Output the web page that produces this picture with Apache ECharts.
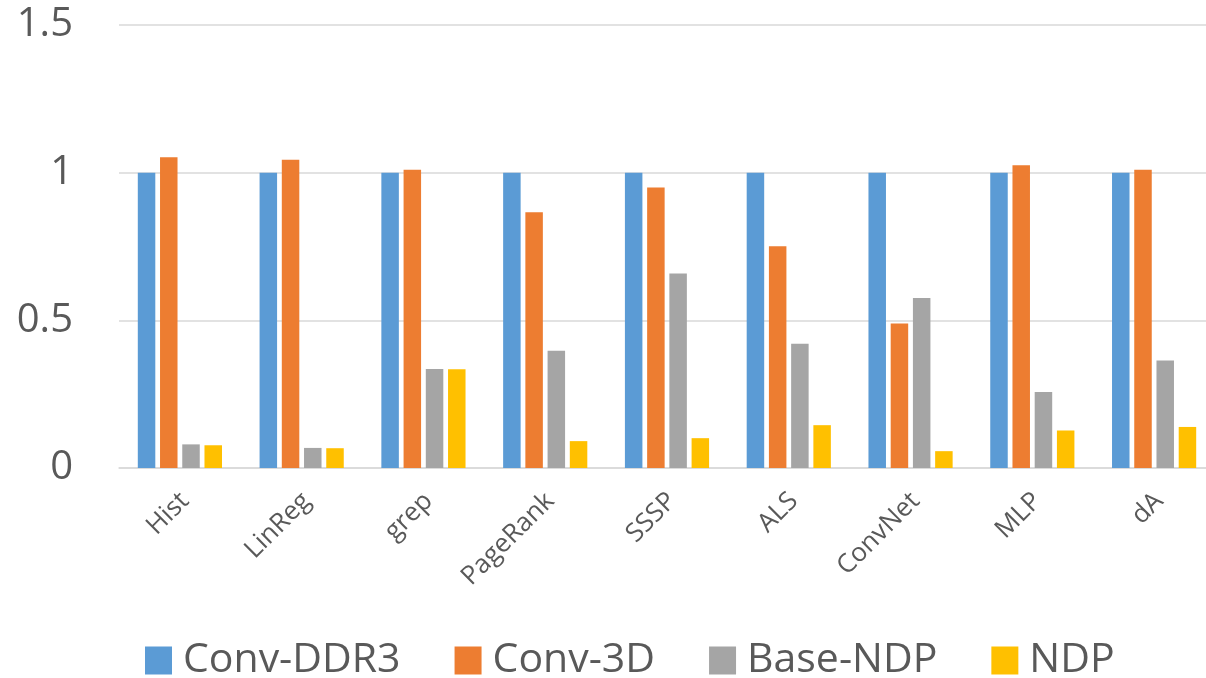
<!DOCTYPE html>
<html>
<head>
<meta charset="utf-8">
<script src="https://cdn.jsdelivr.net/npm/echarts@6/dist/echarts.min.js"></script>
<style>
  html, body { margin: 0; padding: 0; background: #fff; }
  #chart { width: 1206px; height: 678px; }
</style>
</head>
<body>
<div id="chart"></div>
<script>
// Workloads along the x axis
const categories = ['Hist', 'LinReg', 'grep', 'PageRank', 'SSSP', 'ALS', 'ConvNet', 'MLP', 'dA'];

// Normalized values per configuration
const convDDR3 = [1, 1, 1, 1, 1, 1, 1, 1, 1];
const conv3D   = [1.052, 1.044, 1.010, 0.866, 0.950, 0.751, 0.489, 1.025, 1.010];
const baseNDP  = [0.080, 0.068, 0.335, 0.397, 0.659, 0.421, 0.576, 0.257, 0.364];
const ndp      = [0.077, 0.067, 0.334, 0.091, 0.101, 0.145, 0.057, 0.127, 0.139];

const seriesNames = ['Conv-DDR3', 'Conv-3D', 'Base-NDP', 'NDP'];
const seriesData = [convDDR3, conv3D, baseNDP, ndp];
const colors = ['#5B9BD5', '#ED7D31', '#A5A5A5', '#FFC000'];

const FONT = '"Open Sans", "Liberation Sans", sans-serif';
const TEXT = '#595959';
const GRID = '#D9D9D9';

const chart = echarts.init(document.getElementById('chart'), null, { renderer: 'canvas' });

chart.setOption({
  animation: false,
  color: colors,
  // plot area runs slightly past the right edge of the canvas
  grid: { left: 119, top: 25, right: -9, bottom: 210, outerBoundsMode: 'none' },
  legend: {
    left: 145,
    top: 640,
    padding: 0,
    itemWidth: 27,
    itemHeight: 28,
    itemGap: 54,
    icon: 'rect',
    textStyle: { fontFamily: FONT, fontSize: 41, color: TEXT, padding: [0, 0, 0, 6] },
    data: seriesNames
  },
  xAxis: {
    type: 'category',
    data: categories,
    axisLine: { show: true, lineStyle: { color: GRID, width: 1.5 } },
    axisTick: { show: false },
    axisLabel: {
      rotate: 45,
      interval: 0,
      margin: 34,
      padding: [0, -7, 0, 0],
      fontFamily: FONT,
      fontSize: 26,
      color: TEXT
    }
  },
  yAxis: {
    type: 'value',
    min: 0,
    max: 1.5,
    interval: 0.5,
    axisLine: { show: false },
    axisTick: { show: false },
    splitLine: { lineStyle: { color: GRID, width: 1.5 } },
    axisLabel: {
      margin: 46,
      fontFamily: FONT,
      fontSize: 40,
      color: TEXT
    }
  },
  series: seriesNames.map((name, i) => ({
    name: name,
    type: 'bar',
    data: seriesData[i],
    barWidth: 17.5,
    barGap: '27%'
  }))
});
</script>
</body>
</html>
